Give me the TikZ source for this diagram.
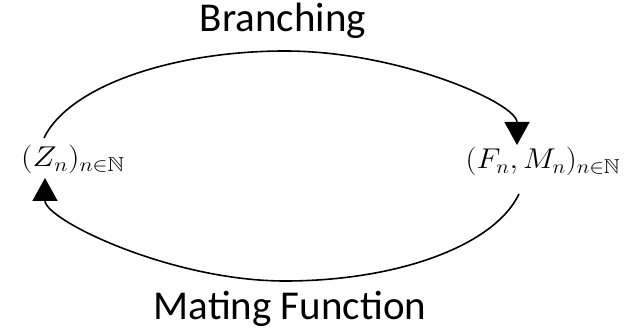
\documentclass[tikz,border=0pt]{standalone}
\usepackage{amssymb}
\usepackage{graphicx}
\usepackage{fontspec}
\setmainfont{Carlito}
\usepackage{tikz}
\usetikzlibrary{arrows.meta,positioning}
\tikzstyle{Title} = [inner sep=0pt, anchor=base, font=\fontsize{41}{48}\selectfont]
\tikzstyle{State} = [inner sep=0pt, anchor=base, font=\fontsize{25}{30}\selectfont]
\tikzstyle{Cycle} = [line width=1.6pt, -{Triangle[width=25pt,length=23pt]}]

\begin{document}
\begin{tikzpicture}[x=1pt,y=1pt]
    \useasboundingbox (0,0) rectangle (644,334);
    \node[Title] (branch) at (283,302) {Branching};
    \node[Title] (mating) at (290,14)  {Mating Function};
    \node[State] (pop)    at (73,167)  {\scalebox{1.3}[1.15]{$(Z_n)_{n\in\mathbb{N}}$}};
    \node[State] (pair)   at (543,165) {\scalebox{1.25}[1.15]{$(F_n,M_n)_{n\in\mathbb{N}}$}};
    \coordinate (popTop)     at (44,196);
    \coordinate (arcTop)     at (285,283);
    \coordinate (pairTop)    at (517,189);
    \coordinate (pairBottom) at (519,140);
    \coordinate (arcBottom)  at (285,53);
    \coordinate (popBottom)  at (45,156);
    \draw[Cycle] (popTop) .. controls +(25,52) and +(-112,0) .. (arcTop)
                          .. controls +(114,0) and +(0,42) .. (pairTop);
    \draw[Cycle] (pairBottom) .. controls +(-25,-52) and +(112,0) .. (arcBottom)
                              .. controls +(-114,0) and +(0,-42) .. (popBottom);
  \end{tikzpicture}
\end{document}
